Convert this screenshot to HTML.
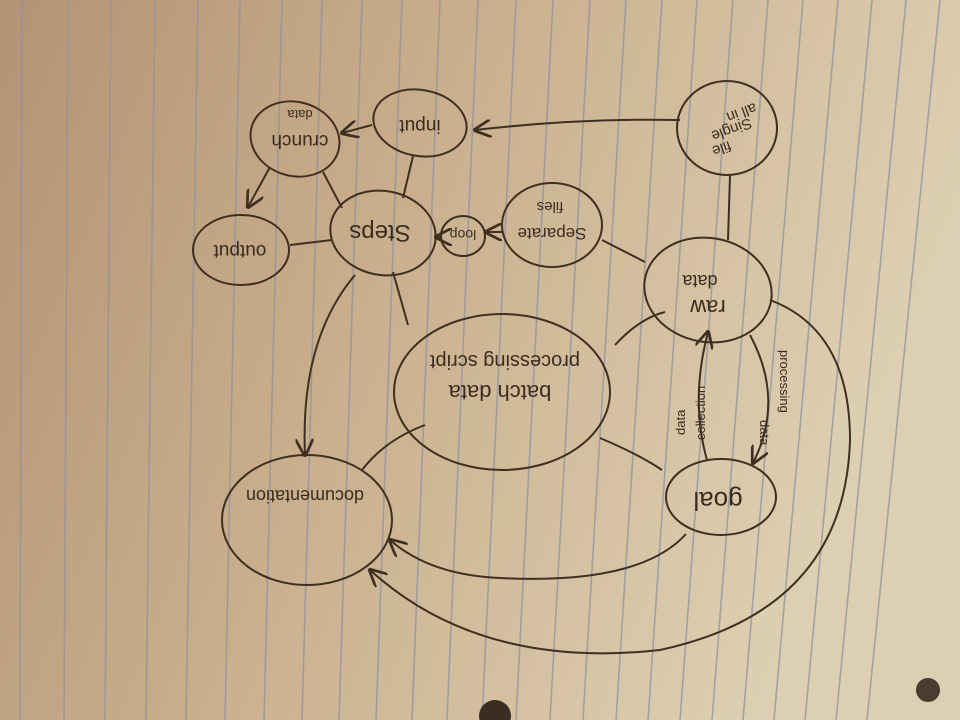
<!DOCTYPE html>
<html><head><meta charset="utf-8"><style>
html,body{margin:0;padding:0;width:960px;height:720px;overflow:hidden}
svg{display:block}
text{font-family:"Liberation Sans",sans-serif;fill:#3a2c1e}
</style></head><body>
<svg width="960" height="720" viewBox="0 0 960 720" xmlns="http://www.w3.org/2000/svg">
<defs>
<linearGradient id="bg" x1="0" y1="0" x2="1" y2="0.3">
<stop offset="0" stop-color="#b39373"/>
<stop offset="0.45" stop-color="#c9ae8c"/>
<stop offset="1" stop-color="#ddd0b2"/>
</linearGradient>
<marker id="a" viewBox="0 0 10 10" refX="9" refY="5" markerWidth="9" markerHeight="9" orient="auto-start-reverse">
<path d="M0,0 L10,5 L0,10" fill="none" stroke="#3e2f20" stroke-width="1.5"/>
</marker>
</defs>
<rect width="960" height="720" fill="url(#bg)"/>
<g stroke="#8f93a0" stroke-width="1.6" opacity="0.75">
<line x1="22" y1="0" x2="20" y2="720"/>
<line x1="68" y1="0" x2="64" y2="720"/>
<line x1="111" y1="0" x2="105" y2="720"/>
<line x1="155" y1="0" x2="146" y2="720"/>
<line x1="198" y1="0" x2="186" y2="720"/>
<line x1="240" y1="0" x2="225" y2="720"/>
<line x1="282" y1="0" x2="264" y2="720"/>
<line x1="322" y1="0" x2="302" y2="720"/>
<line x1="362" y1="0" x2="339" y2="720"/>
<line x1="402" y1="0" x2="376" y2="720"/>
<line x1="440" y1="0" x2="412" y2="720"/>
<line x1="478" y1="0" x2="447" y2="720"/>
<line x1="516" y1="0" x2="482" y2="720"/>
<line x1="553" y1="0" x2="516" y2="720"/>
<line x1="590" y1="0" x2="550" y2="720"/>
<line x1="626" y1="0" x2="583" y2="720"/>
<line x1="662" y1="0" x2="616" y2="720"/>
<line x1="697" y1="0" x2="648" y2="720"/>
<line x1="733" y1="0" x2="680" y2="720"/>
<line x1="768" y1="0" x2="712" y2="720"/>
<line x1="803" y1="0" x2="743" y2="720"/>
<line x1="838" y1="0" x2="774" y2="720"/>
<line x1="872" y1="0" x2="805" y2="720"/>
<line x1="906" y1="0" x2="836" y2="720"/>
<line x1="940" y1="0" x2="867" y2="720"/>
</g>
<circle cx="495" cy="716" r="16" fill="#3a2e24"/>
<circle cx="928" cy="690" r="12" fill="#4a3c2e"/>
<g fill="none" stroke="#3e2f20" stroke-width="2">
<ellipse cx="295" cy="139" rx="45" ry="37" transform="rotate(15 295 139)"/>
<ellipse cx="420" cy="123" rx="47" ry="33" transform="rotate(10 420 123)"/>
<ellipse cx="241" cy="250" rx="48" ry="35"/>
<ellipse cx="383" cy="233" rx="53" ry="42" transform="rotate(10 383 233)"/>
<ellipse cx="463" cy="236" rx="22" ry="20"/>
<ellipse cx="552" cy="225" rx="50" ry="42"/>
<ellipse cx="727" cy="128" rx="50" ry="47"/>
<ellipse cx="708" cy="290" rx="64" ry="52" transform="rotate(10 708 290)"/>
<ellipse cx="502" cy="392" rx="108" ry="78"/>
<ellipse cx="721" cy="497" rx="55" ry="38"/>
<ellipse cx="307" cy="520" rx="85" ry="65"/>
<path d="M372,125 L342,133" marker-end="url(#a)"/>
<path d="M270,167 L248,207" marker-end="url(#a)"/>
<path d="M323,172 L342,208"/>
<path d="M413,156 L403,198"/>
<path d="M290,245 L332,240"/>
<path d="M441,237 L436,237" marker-end="url(#a)"/>
<path d="M502,232 L486,232" marker-end="url(#a)"/>
<path d="M645,262 L602,240"/>
<path d="M680,120 Q580,118 475,130" marker-end="url(#a)"/>
<path d="M730,175 L728,240"/>
<path d="M393,272 L408,325"/>
<path d="M355,275 Q300,340 305,455" marker-end="url(#a)"/>
<path d="M615,345 Q640,318 665,312"/>
<path d="M600,438 Q640,455 662,470"/>
<path d="M425,425 Q385,440 362,470"/>
<path d="M686,534 Q640,585 500,578 Q430,575 390,540" marker-end="url(#a)"/>
<path d="M770,300 Q850,330 850,440 Q845,610 660,650 Q480,670 370,570" marker-end="url(#a)"/>
<path d="M707,460 Q690,400 708,332" marker-end="url(#a)"/>
<path d="M750,335 Q785,400 753,463" marker-end="url(#a)"/>
</g>
<g font-size="19">
<text transform="translate(300,135) rotate(180)" text-anchor="middle">crunch</text>
<text transform="translate(300,110) rotate(180)" text-anchor="middle" font-size="13">data</text>
<text transform="translate(420,120) rotate(180)" text-anchor="middle">input</text>
<text transform="translate(240,245) rotate(180)" text-anchor="middle">output</text>
<text transform="translate(380,225) rotate(180)" text-anchor="middle" font-size="24">Steps</text>
<text transform="translate(463,230) rotate(180)" text-anchor="middle" font-size="14">loop</text>
<text transform="translate(552,228) rotate(180)" text-anchor="middle" font-size="17">Separate</text>
<text transform="translate(550,202) rotate(180)" text-anchor="middle" font-size="15">files</text>
<text transform="translate(740,108) rotate(160)" text-anchor="middle" font-size="15">all in</text>
<text transform="translate(730,125) rotate(160)" text-anchor="middle" font-size="15">Single</text>
<text transform="translate(720,144) rotate(160)" text-anchor="middle" font-size="15">file</text>
<text transform="translate(708,300) rotate(180)" text-anchor="middle" font-size="22">raw</text>
<text transform="translate(700,275) rotate(180)" text-anchor="middle" font-size="18">data</text>
<text transform="translate(500,385) rotate(180)" text-anchor="middle" font-size="22">batch  data</text>
<text transform="translate(505,355) rotate(180)" text-anchor="middle" font-size="20">processing script</text>
<text transform="translate(718,492) rotate(180)" text-anchor="middle" font-size="26">goal</text>
<text transform="translate(305,490) rotate(180)" text-anchor="middle" font-size="18">documentation</text>
<text transform="translate(685,435) rotate(-90)" font-size="13">data</text>
<text transform="translate(705,440) rotate(-90)" font-size="13">collection</text>
<text transform="translate(760,420) rotate(90)" font-size="13">data</text>
<text transform="translate(780,350) rotate(90)" font-size="13">processing</text>
</g>
</svg>
</body></html>
